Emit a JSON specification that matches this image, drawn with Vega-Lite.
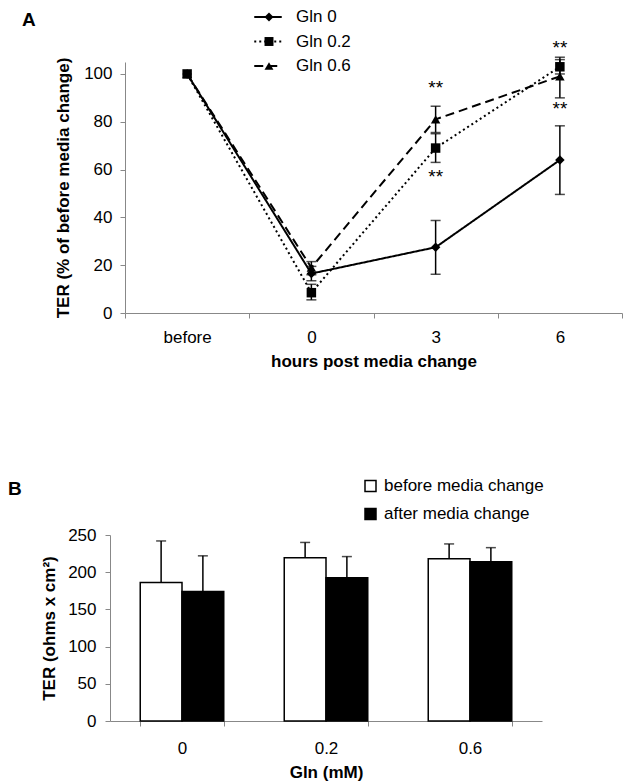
{
  "$schema": "https://vega.github.io/schema/vega-lite/v6.json",
  "padding": {"top": 8, "left": 8, "right": 5, "bottom": 5},
  "background": "white",
  "config": {
    "font": "Liberation Sans",
    "view": {"stroke": null},
    "axis": {"labelFontSize": 17, "titleFontSize": 17, "titleFontWeight": "bold", "labelColor": "black", "titleColor": "black", "domainColor": "#888", "tickColor": "#888", "grid": false, "tickSize": 5, "labelFont": "Liberation Sans", "titleFont": "Liberation Sans", "labelOverlap": false},
    "legend": {"labelFont": "Liberation Sans", "labelFontSize": 17, "labelColor": "black"},
    "title": {"font": "Liberation Sans", "fontSize": 19, "fontWeight": "bold", "color": "black", "anchor": "start"}
  },
  "spacing": 108,
  "resolve": {"legend": {"fill": "independent", "shape": "independent", "strokeDash": "independent"}},
  "vconcat": [
    {
      "width": 512,
      "height": 251,
      "title": {"text": "A", "frame": "group", "dx": -88, "dy": 25},
      "data": {"values": [
        {"series": "Gln 0", "time": "before", "value": 100},
        {"series": "Gln 0", "time": "0", "value": 16.5, "lo": 13.5, "hi": 19.5},
        {"series": "Gln 0", "time": "3", "value": 27.5, "lo": 16.2, "hi": 38.7},
        {"series": "Gln 0", "time": "6", "value": 64, "lo": 49.6, "hi": 78.3},
        {"series": "Gln 0.2", "time": "before", "value": 100},
        {"series": "Gln 0.2", "time": "0", "value": 8.5, "lo": 5.5, "hi": 12},
        {"series": "Gln 0.2", "time": "3", "value": 69, "lo": 63, "hi": 75},
        {"series": "Gln 0.2", "time": "6", "value": 103, "lo": 100, "hi": 106},
        {"series": "Gln 0.6", "time": "before", "value": 100},
        {"series": "Gln 0.6", "time": "0", "value": 19, "lo": 16, "hi": 21.5},
        {"series": "Gln 0.6", "time": "3", "value": 81, "lo": 75.5, "hi": 86.5},
        {"series": "Gln 0.6", "time": "6", "value": 99, "lo": 90, "hi": 107}
      ]},
      "encoding": {
        "x": {"field": "time", "type": "nominal", "sort": ["before", "0", "3", "6"], "bandPosition": 0.5,
          "scale": {"type": "band", "paddingInner": 0, "paddingOuter": 0, "range": [15, 512]},
          "axis": {"title": "hours post media change", "labelAngle": 0, "tickBand": "extent", "labelPadding": 11, "titlePadding": 8}}
      },
      "layer": [
        {
          "mark": {"type": "rule", "color": "black", "strokeWidth": 1.5},
          "encoding": {
            "y": {"field": "lo", "type": "quantitative", "scale": {"domain": [0, 105], "nice": false},
              "axis": {"title": "TER (% of before media change)", "values": [0, 20, 40, 60, 80, 100], "labelPadding": 8, "titlePadding": 11, "offset": -15}},
            "y2": {"field": "hi"},
            "detail": {"field": "series"}
          }
        },
        {
          "mark": {"type": "tick", "color": "black", "size": 10, "thickness": 1.5, "orient": "horizontal"},
          "encoding": {"y": {"field": "lo", "type": "quantitative"}, "detail": {"field": "series"}}
        },
        {
          "mark": {"type": "tick", "color": "black", "size": 10, "thickness": 1.5, "orient": "horizontal"},
          "encoding": {"y": {"field": "hi", "type": "quantitative"}, "detail": {"field": "series"}}
        },
        {
          "mark": {"type": "line", "color": "black", "strokeWidth": 2},
          "encoding": {
            "y": {"field": "value", "type": "quantitative"},
            "strokeDash": {"field": "series", "type": "nominal",
              "scale": {"range": [[1, 0], [2, 3], [9, 5]]},
              "legend": {"title": null, "orient": "none", "legendX": 149.5, "legendY": -53.5, "padding": 0,
                "symbolType": "M-2.5,0H2.5", "symbolSize": 121, "symbolStrokeWidth": 2, "symbolStrokeColor": "black",
                "labelOffset": 19.5, "rowPadding": 6.5}}
          }
        },
        {
          "mark": {"type": "point", "filled": true, "color": "black", "size": 90, "opacity": 1},
          "encoding": {
            "y": {"field": "value", "type": "quantitative"},
            "shape": {"field": "series", "type": "nominal",
              "scale": {"domain": ["Gln 0", "Gln 0.2", "Gln 0.6"], "range": ["diamond", "square", "triangle-up"]},
              "legend": {"title": null, "orient": "none", "legendX": 150.5, "legendY": -53.5, "padding": 0,
                "symbolSize": 80, "symbolFillColor": "black", "symbolStrokeColor": "black", "symbolStrokeWidth": 0,
                "labelOpacity": 0, "labelOffset": 19.5, "rowPadding": 6.5}}
          }
        },
        {
          "data": {"values": [
            {"time": "3", "pos": 94, "label": "**"},
            {"time": "3", "pos": 57, "label": "**"},
            {"time": "6", "pos": 111, "label": "**"},
            {"time": "6", "pos": 85.5, "label": "**"}
          ]},
          "mark": {"type": "text", "fontSize": 19, "font": "Liberation Sans", "color": "black", "baseline": "middle"},
          "encoding": {
            "y": {"field": "pos", "type": "quantitative"},
            "text": {"field": "label"}
          }
        }
      ]
    },
    {
      "width": 432,
      "height": 186,
      "title": {"text": "B", "frame": "group", "dx": -102, "dy": 25},
      "data": {"values": [
        {"gln": "0", "phase": "before media change", "ter": 186, "hi": 242},
        {"gln": "0", "phase": "after media change", "ter": 174, "hi": 222},
        {"gln": "0.2", "phase": "before media change", "ter": 219.5, "hi": 240},
        {"gln": "0.2", "phase": "after media change", "ter": 192.5, "hi": 221},
        {"gln": "0.6", "phase": "before media change", "ter": 218, "hi": 238},
        {"gln": "0.6", "phase": "after media change", "ter": 214, "hi": 233}
      ]},
      "encoding": {
        "x": {"field": "gln", "type": "nominal", "sort": ["0", "0.2", "0.6"],
          "scale": {"paddingInner": 0.42, "paddingOuter": 0.21},
          "axis": {"title": "Gln (mM)", "labelAngle": 0, "tickBand": "extent", "labelPadding": 14.5, "titlePadding": 8}},
        "xOffset": {"field": "phase", "type": "nominal", "sort": ["before media change", "after media change"], "scale": {"paddingInner": 0, "paddingOuter": 0}}
      },
      "layer": [
        {
          "mark": {"type": "rule", "color": "black", "strokeWidth": 1.5},
          "encoding": {
            "y": {"field": "ter", "type": "quantitative", "scale": {"domain": [0, 250], "nice": false},
              "axis": {"title": "TER (ohms x cm²)", "values": [0, 50, 100, 150, 200, 250], "labelPadding": 9, "titlePadding": 9}},
            "y2": {"field": "hi"}
          }
        },
        {
          "mark": {"type": "tick", "color": "black", "size": 10, "thickness": 1.5, "orient": "horizontal"},
          "encoding": {"y": {"field": "hi", "type": "quantitative", "axis": {"title": "TER (ohms x cm²)", "values": [0, 50, 100, 150, 200, 250], "labelPadding": 9, "titlePadding": 9}}}
        },
        {
          "mark": {"type": "bar", "stroke": "black", "strokeWidth": 1.5},
          "encoding": {
            "y": {"field": "ter", "type": "quantitative", "axis": {"title": "TER (ohms x cm²)", "values": [0, 50, 100, 150, 200, 250], "labelPadding": 9, "titlePadding": 9}},
            "fill": {"field": "phase", "type": "nominal", "sort": ["before media change", "after media change"],
              "scale": {"range": ["white", "black"]},
              "legend": {"title": null, "orient": "none", "legendX": 252, "legendY": -57.5, "padding": 0,
                "symbolType": "square", "symbolSize": 121, "symbolStrokeColor": "black", "symbolStrokeWidth": 1.5,
                "labelOffset": 5, "rowPadding": 10}}
          }
        }
      ]
    }
  ]
}
